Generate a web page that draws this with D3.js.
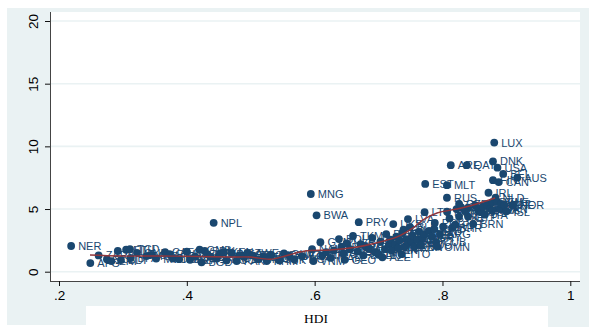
<!DOCTYPE html>
<html><head><meta charset="utf-8">
<script src="https://cdn.jsdelivr.net/npm/d3@7"></script>
<style>body{margin:0;background:#fff}svg{display:block}</style>
</head><body>
<svg id="c" width="589" height="327"></svg>
<script>
const countries = ["NER","AFG","ZAR","SLE","ERI","MLI","BDI","ETH","TCD","BFA","GNB","MOZ","GIN","MWI","CAF","RWA","UGA","BEN","CIV","TZA","ZMB","GMB","BGD","SDN","HTI","SEN","NPL","YEM","MRT","KEN","LSO","NGA","PAK","COG","CMR","ZWE","TGO","MDG","LAO","KHM","IND","TJK","GHA","SWZ","PNG","KGZ","VNM","NAM",
"MNG","BWA","GTM","NIC","HND","MAR","EGY","BOL","IDN","GEO","SYR","UZB","MDA","TKM","SLV","PRY","GUY","DZA","CPV","CHN","JAM","PHL","LKA","ECU","AZE","ARM","DOM","TUN","PER","IRN","UKR","THA","COL","TUR","BRA","TTO","KAZ","FJI","VEN","MKD","LVA","ALB","BLR","PAN","MUS","LBN","CRI","MYS","ROU","BGR","MEX","LTU","EST","HRV","URY","CHL","POL","CUB","OMN","ARG","KWT","HUN","RUS","MLT","SVK","BHR","PRT",
"ARE","QAT","SAU","CZE","GRC","ISR","CYP","KOR","BRN","SVN","ESP","SGP","HKG","ITA","GBR","IRL","FRA","NZL","DEU","FIN","DNK","LUX","NLD","SWE","USA","CAN","JPN","AUT","BEL","CHE","ISL","NOR","AUS","MAC"];
const hdi = [.219,.249,.262,.275,.282,.292,.297,.305,.311,.312,.322,.337,.345,.352,.366,.373,.378,.388,.400,.405,.413,.420,.423,.428,.432,.437,.442,.447,.452,.458,.462,.470,.478,.482,.490,.495,.503,.512,.520,.525,.532,.545,.552,.560,.568,.580,.598,.596,
.594,.603,.609,.612,.618,.625,.630,.638,.642,.647,.645,.650,.655,.660,.667,.669,.672,.676,.680,.685,.690,.695,.700,.703,.706,.710,.712,.716,.719,.721,.723,.726,.728,.731,.733,.736,.737,.739,.741,.743,.746,.747,.749,.751,.753,.756,.760,.763,.766,.769,.771,.772,.773,.779,.783,.787,.788,.790,.792,.796,.801,.807,.807,.807,.811,.815,.820,
.813,.838,.822,.826,.829,.826,.840,.840,.848,.851,.856,.860,.863,.866,.870,.872,.875,.878,.878,.879,.879,.881,.883,.885,.886,.888,.890,.892,.895,.897,.900,.910,.917,.835];
const values = [2.05,.69,1.3,1.0,.85,1.65,.93,1.75,1.8,1.1,1.5,1.25,1.35,1.05,1.55,1.4,1.05,1.0,1.6,.95,1.2,1.75,.75,1.65,1.4,1.2,3.9,1.05,1.45,1.55,.9,1.5,.85,1.3,1.2,1.5,1.3,1.0,1.2,.85,1.35,.9,1.45,1.3,1.0,1.25,.85,1.8,
6.2,4.5,2.35,1.3,1.55,1.1,1.7,2.6,2.0,.95,1.45,2.25,1.8,2.85,1.6,3.95,2.2,1.3,2.0,1.85,2.7,1.55,1.35,2.4,1.15,1.8,3.0,2.15,2.55,1.7,3.8,2.2,2.8,1.9,2.5,1.4,3.1,3.35,2.0,2.6,4.2,2.3,3.55,2.45,2.9,2.0,2.55,3.2,2.1,2.7,3.0,4.75,7.0,3.25,2.8,3.4,3.9,2.35,2.0,3.0,3.6,4.8,5.9,6.9,4.25,3.5,3.75,
8.5,8.5,5.0,5.4,5.15,4.4,4.4,5.1,3.8,5.3,4.9,4.75,5.2,4.55,5.35,6.3,5.0,4.9,5.55,7.3,8.8,10.3,5.9,5.6,8.3,7.15,5.0,5.4,7.8,5.3,4.8,5.3,7.5,4.85];
const fitX = [.2485,.2955,.358,.4207,.4677,.499,.5303,.5538,.5773,.593,.6241,.6664,.7023,.729,.754,.7696,.7915,.8228,.8479,.8823];
const fitY = [1.33,1.25,1.25,1.21,1.17,1.17,.99,1.25,1.57,1.69,1.73,1.97,2.37,2.77,3.49,4.13,4.68,5.0,5.32,5.88];
const xTicks = [.2,.4,.6,.8,1];
const xTickLabels = [".2",".4",".6",".8","1"];
const yTicks = [0,5,10,15,20];
const xTitle = "HDI";

const svg = d3.select("#c");
const bg = "#eaf2f3", navy = "#1a476f", red = "#90353b";
svg.append("rect").attr("x",7).attr("y",8).attr("width",582).attr("height",317).attr("fill",bg);
svg.append("rect").attr("x",548).attr("y",320).attr("width",41).attr("height",7).attr("fill",bg);
svg.append("rect").attr("x",86).attr("y",306).attr("width",462).attr("height",21).attr("fill","#fff");
const L=50, R=580, T=12, B=281;
svg.append("rect").attr("x",L).attr("y",T).attr("width",R-L).attr("height",B-T).attr("fill","#fff");

const x = d3.scaleLinear().domain([.2,1]).range([59,570.3]);
const y = d3.scaleLinear().domain([0,20]).range([271.7,21]);

// gridlines
svg.append("g").selectAll("line").data(yTicks).join("line")
  .attr("x1",L+1).attr("x2",R).attr("y1",d=>y(d)).attr("y2",d=>y(d))
  .attr("stroke",bg).attr("stroke-width",1.6);

// axes
const xAxis = d3.axisBottom(x).tickValues(xTicks).tickFormat((d,i)=>xTickLabels[i]).tickSize(5).tickPadding(4);
const gx = svg.append("g").attr("transform",`translate(0,${B})`).call(xAxis);
gx.select(".domain").attr("d",`M${L},0.5H${R}`).attr("stroke","#444");
gx.selectAll(".tick line").attr("stroke","#111");
gx.selectAll("text").attr("font-family","Liberation Sans, Arial, sans-serif").attr("font-size",13.5).attr("fill","#000").attr("dy","0.71em");

const yAxis = d3.axisLeft(y).tickValues(yTicks).tickSize(5).tickPadding(4);
const gy = svg.append("g").attr("transform",`translate(${L},0)`).call(yAxis);
gy.select(".domain").attr("d",`M0.5,${T}V${B}`).attr("stroke","#444");
gy.selectAll(".tick line").attr("stroke","#111");
gy.selectAll(".tick text").attr("font-family","Liberation Sans, Arial, sans-serif").attr("font-size",13.5).attr("fill","#000")
  .attr("text-anchor","middle").attr("x",null).attr("dy",null)
  .attr("transform","translate(-12,0) rotate(-90)");

// x title
svg.append("text").attr("x",316).attr("y",323).attr("text-anchor","middle")
  .attr("font-family","Liberation Serif, Times New Roman, serif").attr("font-size",13.5).attr("fill","#000").text(xTitle);

// points + labels
const pts = countries.map((c,i)=>({c,x:hdi[i],y:values[i]}));
const g = svg.append("g");
pts.forEach(p=>{
  g.append("circle").attr("cx",x(p.x)).attr("cy",y(p.y)).attr("r",3.9).attr("fill",navy);
  g.append("text").attr("x",x(p.x)+7).attr("y",y(p.y)+4).attr("font-family","Liberation Sans, Arial, sans-serif")
    .attr("font-size",11).attr("fill",navy).text(p.c);
});

// fitted line
const line = d3.line().x((d,i)=>x(fitX[i])).y(d=>y(d)).curve(d3.curveCatmullRom);
svg.append("path").attr("d",line(fitY)).attr("fill","none").attr("stroke",red).attr("stroke-width",1.4);
</script>
</body></html>
